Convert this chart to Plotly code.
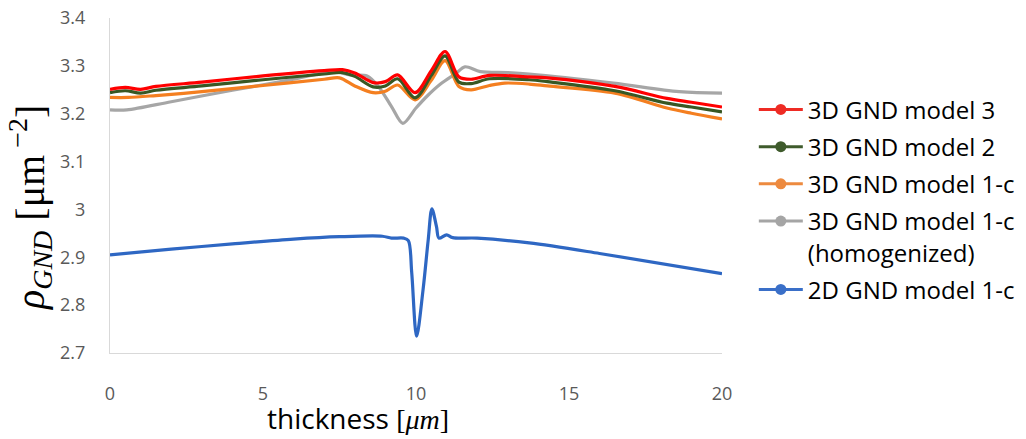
import plotly.graph_objects as go

# Thickness positions [um] and GND density values for each model
x_m3 = [0, 0.5, 1.0, 1.5, 3, 5, 7.0, 7.6, 8.0, 8.6, 9.0, 9.4, 9.97, 10.5, 10.95, 11.4, 11.8, 12.4, 13.7, 14.3, 16.5, 18.2, 19, 20]
y_m3 = [3.251, 3.255, 3.251, 3.257, 3.266, 3.279, 3.290, 3.292, 3.285, 3.265, 3.267, 3.281, 3.244, 3.290, 3.330, 3.277, 3.272, 3.280, 3.277, 3.275, 3.257, 3.232, 3.224, 3.214]

x_m2 = [0, 0.5, 1.0, 1.5, 3, 5, 7.0, 7.6, 8.0, 8.6, 9.0, 9.4, 9.97, 10.5, 10.95, 11.4, 11.8, 12.4, 13.7, 14.3, 16.5, 18.2, 19, 20]
y_m2 = [3.244, 3.248, 3.243, 3.249, 3.258, 3.271, 3.283, 3.286, 3.278, 3.256, 3.258, 3.273, 3.233, 3.280, 3.321, 3.266, 3.263, 3.273, 3.271, 3.267, 3.248, 3.222, 3.214, 3.204]

x_m1c = [0, 0.6, 1.5, 3, 5, 7.0, 7.5, 8.0, 8.6, 9.0, 9.4, 9.97, 10.5, 10.95, 11.4, 11.8, 12.4, 12.9, 13.7, 14.3, 16.5, 18.2, 19, 20]
y_m1c = [3.234, 3.234, 3.238, 3.246, 3.259, 3.272, 3.275, 3.258, 3.244, 3.247, 3.260, 3.229, 3.270, 3.311, 3.257, 3.250, 3.259, 3.264, 3.262, 3.258, 3.243, 3.212, 3.201, 3.189]

x_hom = [0, 0.55, 2, 4, 6, 7.3, 7.84, 8.4, 8.77, 9.2, 9.57, 10.0, 10.35, 10.8, 11.3, 11.6, 12.1, 13.0, 13.7, 16.45, 18.6, 20]
y_hom = [3.208, 3.208, 3.225, 3.249, 3.272, 3.288, 3.281, 3.279, 3.257, 3.215, 3.180, 3.212, 3.236, 3.262, 3.284, 3.298, 3.288, 3.286, 3.283, 3.264, 3.246, 3.243]

x_2d = [0, 2, 4, 6, 7.5, 8.9, 9.2, 9.6, 9.75, 9.86, 10.02, 10.23, 10.4, 10.52, 10.67, 10.75, 11.0, 11.2, 12, 13.7, 16, 20]
y_2d = [2.905, 2.917, 2.928, 2.938, 2.943, 2.944, 2.940, 2.940, 2.935, 2.868, 2.735, 2.832, 2.937, 3.001, 2.964, 2.940, 2.947, 2.941, 2.940, 2.930, 2.908, 2.866]

series_names = ["3D GND model 3", "3D GND model 2", "3D GND model 1-c",
                "3D GND model 1-c<br>(homogenized)", "2D GND model 1-c"]
line_colors = ["#FF0000", "#385723", "#F47F20", "#A6A6A6", "#2E67C3"]
legend_colors = ["#EE2B24", "#3F5B2C", "#ED8A3F", "#A5A5A5", "#3A6FC8"]

x_ticks = [0, 5, 10, 15, 20]
y_ticks = [2.7, 2.8, 2.9, 3.0, 3.1, 3.2, 3.3, 3.4]
y_tick_text = ["2.7", "2.8", "2.9", "3", "3.1", "3.2", "3.3", "3.4"]

xs = [x_m3, x_m2, x_m1c, x_hom, x_2d]
ys = [y_m3, y_m2, y_m1c, y_hom, y_2d]

fig = go.Figure()

# curves drawn back to front: homogenized, orange, green, red, then 2D
draw_order = [3, 2, 1, 0, 4]
for i in draw_order:
    fig.add_trace(go.Scatter(
        x=xs[i], y=ys[i], mode="lines",
        line=dict(color=line_colors[i], width=3.2, shape="spline", smoothing=0.9),
        showlegend=False, hoverinfo="skip",
    ))

# legend entries (line with a round marker)
for i, name in enumerate(series_names):
    fig.add_trace(go.Scatter(
        x=[None], y=[None], mode="lines+markers", name=name,
        line=dict(color=legend_colors[i], width=3),
        marker=dict(color=legend_colors[i], size=11),
        legendgroup=str(i),
    ))

tick_font = dict(family="Open Sans", size=18, color="#595959")

fig.update_layout(
    width=1026, height=439,
    margin=dict(l=110, r=304, t=18, b=86, autoexpand=False),
    paper_bgcolor="white", plot_bgcolor="white",
    showlegend=True,
    legend=dict(
        x=1.052, y=0.793, xanchor="left", yanchor="top", valign="top",
        font=dict(family="Open Sans", size=24, color="#000000"),
        itemwidth=44, tracegroupgap=3, bgcolor="rgba(0,0,0,0)",
    ),
    xaxis=dict(
        range=[0, 20], tickvals=x_ticks, ticktext=[str(v) for v in x_ticks],
        showgrid=False, zeroline=False, showline=True, linecolor="#D9D9D9", linewidth=1,
        ticks="", tickfont=tick_font, ticklabelstandoff=24,
    ),
    yaxis=dict(
        range=[2.7, 3.4], tickvals=y_ticks, ticktext=y_tick_text,
        showgrid=False, zeroline=False, showline=True, linecolor="#D9D9D9", linewidth=1,
        ticks="", tickfont=tick_font, ticklabelstandoff=20,
    ),
    annotations=[
        dict(
            text="thickness <span style=\"font-family:'Liberation Serif'\">[<i>μm</i>]</span>",
            xref="paper", yref="paper", x=(358 - 110) / 612, y=(353 - 418) / 335,
            xanchor="center", yanchor="middle", showarrow=False,
            font=dict(family="Open Sans", size=28, color="#000000"),
        ),
        dict(
            text="<i>ρ</i><sub><i>GND</i></sub> [μm<sup> −2</sup>]",
            xref="paper", yref="paper", x=(30 - 110) / 612, y=(353 - 208) / 335,
            xanchor="center", yanchor="middle", showarrow=False, textangle=-90,
            font=dict(family="Liberation Serif", size=40, color="#000000"),
        ),
    ],
)

fig.write_html("out.html")
